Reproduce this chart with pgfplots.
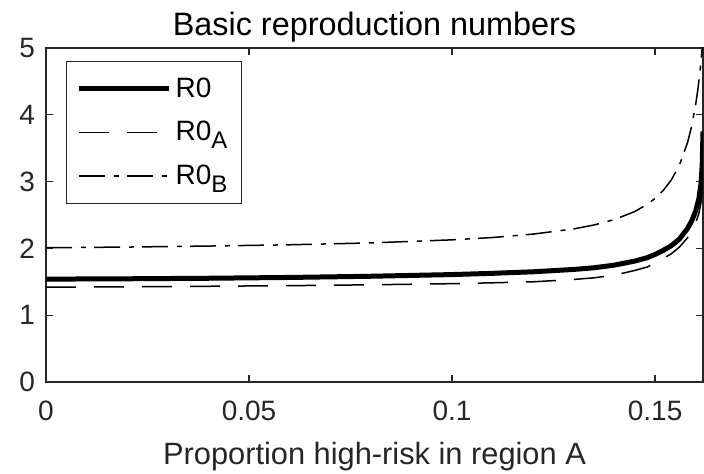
\documentclass[border=0pt]{standalone}
\usepackage{fontspec}
\setmainfont{Liberation Sans}
\usepackage{pgfplots}
\pgfplotsset{compat=1.18}
\definecolor{axgray}{rgb}{0.15,0.15,0.15}
\newcommand{\lowsub}[1]{\raisebox{-4pt}{\fontsize{12}{12}\selectfont #1}}

% R0 curves against the proportion of high-risk individuals in region A
\pgfplotstableread{
x       r
0       1.540
0.02    1.545
0.04    1.553
0.06    1.565
0.08    1.583
0.10    1.608
0.11    1.627
0.12    1.650
0.13    1.685
0.135   1.710
0.14    1.750
0.145   1.810
0.148   1.860
0.150   1.910
0.152   1.970
0.154   2.040
0.156   2.140
0.158   2.300
0.159   2.410
0.160   2.560
0.1608  2.750
0.1613  2.970
0.1616  3.250
0.1618  3.750
}\tblR

\pgfplotstableread{
x       r
0       1.420
0.02    1.425
0.04    1.433
0.06    1.442
0.08    1.455
0.10    1.472
0.11    1.485
0.12    1.500
0.13    1.535
0.135   1.560
0.14    1.600
0.145   1.670
0.148   1.720
0.150   1.780
0.152   1.850
0.154   1.920
0.156   2.020
0.158   2.160
0.159   2.260
0.160   2.380
0.1608  2.530
0.1613  2.690
0.1616  2.830
0.1618  3.000
}\tblA

\pgfplotstableread{
x       r
0       2.010
0.02    2.020
0.04    2.035
0.06    2.054
0.08    2.082
0.10    2.128
0.11    2.163
0.12    2.214
0.13    2.292
0.135   2.351
0.14    2.432
0.145   2.552
0.148   2.657
0.150   2.748
0.152   2.867
0.154   3.025
0.156   3.248
0.158   3.586
0.159   3.829
0.160   4.156
0.1605  4.366
0.161   4.619
0.1612  4.736
0.1615  4.932
0.1618  5.157
}\tblB

\begin{document}
\begin{tikzpicture}
\useasboundingbox (-23pt,-46pt) rectangle (329pt,191pt);
\begin{axis}[
  scale only axis,
  width=328.5pt, height=167pt,
  at={(0,0)}, anchor=south west,
  xmin=0, xmax=0.1618, ymin=0, ymax=5,
  xtick={0,0.05,0.1,0.15}, xticklabels={0,0.05,0.1,0.15},
  scaled x ticks=false,
  ytick={0,1,2,3,4,5},
  tick align=inside,
  major tick length=3.5pt,
  axis line style={axgray, line width=0.6pt},
  every tick/.style={axgray, line width=0.6pt},
  /pgf/number format/assume math mode=true,
  tick label style={font=\fontsize{14}{14}\selectfont, text=axgray},
  xticklabel style={anchor=base, yshift=-19.5pt},
  yticklabel style={xshift=-2pt},
  every axis title shift=0pt,
  title={Basic reproduction numbers},
  title style={font=\fontsize{16.2}{16.2}\selectfont, text=black,
    at={(axis description cs:0.5,1)}, anchor=base, yshift=6pt},
  xlabel={Proportion high-risk in region A},
  xlabel style={font=\fontsize{15.4}{15.4}\selectfont, text=axgray,
    at={(axis description cs:0.5,0)}, anchor=base, yshift=-41.5pt},
  legend cell align=left,
  legend image code/.code={\draw[#1] (0pt,0pt) -- (45pt,0pt);},
  legend style={at={(axis description cs:0,1)}, anchor=north west,
    xshift=10pt, yshift=-6.5pt, draw=axgray, line width=0.6pt,
    font=\fontsize{14}{14}\selectfont,
    inner xsep=5pt, inner ysep=6pt, row sep=6.5pt},
]
\addplot[black, line width=2.5pt, line join=round] table[x=x, y=r] {\tblR};
\addlegendentry{R0}
\addplot[black, line width=0.75pt, dash pattern=on 15pt off 9pt] table[x=x, y=r] {\tblA};
\addlegendentry{R0\lowsub{A}}
\addplot[black, line width=0.75pt, dash pattern=on 13pt off 4.5pt on 2.5pt off 4pt] table[x=x, y=r] {\tblB};
\addlegendentry{R0\lowsub{B}}
\end{axis}
\end{tikzpicture}
\end{document}
